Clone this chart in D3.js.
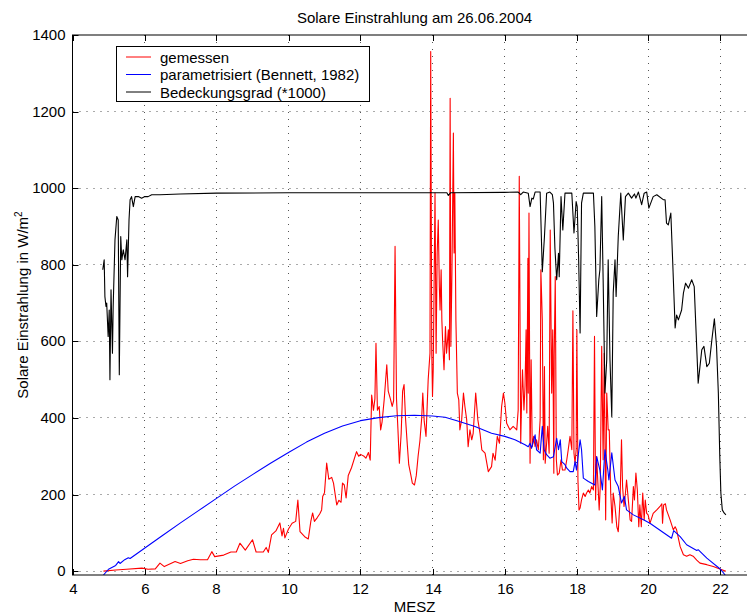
<!DOCTYPE html>
<html><head><meta charset="utf-8">
<script src="https://cdn.jsdelivr.net/npm/d3@7"></script>
<style>
body{margin:0;background:#fff;}
svg text{font-family:"Liberation Sans",Arial,Helvetica,sans-serif;}
</style></head>
<body><svg id="c" width="747" height="615"></svg>
<script>
// ---- data (hour of day MESZ, W/m^2) ----
const xTicks = [4,6,8,10,12,14,16,18,20,22,24];
const yTicks = [0,200,400,600,800,1000,1200,1400];
const seriesNames = ["gemessen","parametrisiert (Bennett, 1982)","Bedeckungsgrad (*1000)"];
const seriesColors = ["#ff0000","#0000ff","#000000"];

const measured = [
[4.86,0],[5.2,3],[5.5,5],[5.93,8],[6.1,5],[6.3,6],[6.43,21],[6.55,12],[6.85,25],[7.0,20],[7.2,27],[7.36,31],
[7.55,30],[7.75,30],[7.87,51],[7.95,38],[8.2,42],[8.4,50],[8.55,50],[8.65,73],[8.8,55],[9.0,82],[9.1,50],[9.3,50],
[9.38,62],[9.44,49],[9.53,95],[9.65,105],[9.76,126],[9.82,92],[9.86,112],[9.9,87],[10.0,110],[10.1,125],[10.2,130],
[10.26,186],[10.32,103],[10.45,90],[10.55,84],[10.62,130],[10.67,152],[10.72,130],[10.8,140],[10.87,150],[10.92,160],
[10.95,195],[11.0,205],[11.06,282],[11.12,240],[11.2,245],[11.25,230],[11.34,173],[11.4,185],[11.46,180],[11.5,230],
[11.55,225],[11.6,191],[11.66,250],[11.75,270],[11.89,312],[11.95,300],[12.0,305],[12.1,300],[12.15,295],[12.22,310],
[12.27,290],[12.31,460],[12.36,420],[12.4,450],[12.43,595],[12.47,420],[12.52,430],[12.56,369],[12.6,390],[12.66,450],
[12.73,539],[12.77,470],[12.83,450],[12.88,430],[12.92,445],[12.96,848],[13.0,450],[13.04,370],[13.08,282],[13.13,360],
[13.17,470],[13.21,487],[13.25,400],[13.3,330],[13.34,278],[13.4,250],[13.44,230],[13.5,225],[13.55,250],[13.6,300],
[13.65,340],[13.7,400],[13.73,465],[13.77,391],[13.82,352],[13.88,500],[13.93,569],[13.95,1357],[13.98,569],[14.0,456],
[14.02,526],[14.07,987],[14.1,569],[14.13,831],[14.16,917],[14.19,743],[14.21,682],[14.24,787],[14.26,656],[14.28,604],
[14.32,526],[14.36,639],[14.39,569],[14.44,630],[14.47,552],[14.49,1235],[14.51,587],[14.54,778],[14.58,1144],[14.6,831],
[14.62,987],[14.65,656],[14.69,465],[14.73,447],[14.76,369],[14.81,395],[14.86,465],[14.9,430],[14.95,395],[14.99,325],
[15.04,369],[15.09,343],[15.13,360],[15.2,465],[15.26,395],[15.32,360],[15.37,317],[15.46,308],[15.55,260],[15.64,273],
[15.68,308],[15.74,290],[15.8,352],[15.86,334],[15.92,430],[15.97,465],[16.01,439],[16.06,386],[16.15,369],[16.24,378],
[16.34,369],[16.38,421],[16.41,1031],[16.45,334],[16.48,465],[16.5,526],[16.54,421],[16.57,482],[16.6,630],[16.62,413],
[16.65,817],[16.66,465],[16.68,935],[16.71,282],[16.74,552],[16.77,325],[16.81,352],[16.85,325],[16.89,343],[16.94,317],
[16.99,395],[17.01,787],[17.05,656],[17.08,291],[17.11,534],[17.13,282],[17.17,334],[17.2,378],[17.24,308],[17.27,891],
[17.31,465],[17.34,630],[17.37,256],[17.38,560],[17.41,769],[17.44,291],[17.47,251],[17.52,256],[17.57,291],[17.61,264],
[17.68,264],[17.73,291],[17.77,317],[17.82,352],[17.87,317],[17.9,680],[17.93,308],[17.96,282],[17.99,317],[18.01,630],
[18.04,238],[18.07,160],[18.1,165],[18.14,186],[18.19,204],[18.24,195],[18.28,204],[18.33,212],[18.37,204],[18.42,221],
[18.47,212],[18.5,613],[18.53,186],[18.56,299],[18.59,238],[18.63,160],[18.66,221],[18.7,587],[18.74,291],[18.77,569],
[18.81,134],[18.84,465],[18.88,369],[18.91,369],[18.95,204],[18.99,126],[19.02,204],[19.07,169],[19.12,116],[19.16,103],
[19.21,186],[19.25,343],[19.28,221],[19.32,169],[19.36,204],[19.39,238],[19.44,186],[19.49,134],[19.53,130],[19.58,221],
[19.61,186],[19.65,256],[19.69,212],[19.73,116],[19.76,173],[19.8,116],[19.84,204],[19.88,134],[19.91,186],[19.95,151],
[19.99,147],[20.04,125],[20.13,151],[20.23,160],[20.32,169],[20.37,176],[20.39,125],[20.42,173],[20.47,176],[20.5,160],
[20.6,134],[20.69,108],[20.74,116],[20.78,108],[20.88,64],[20.97,43],[21.06,39],[21.15,43],[21.24,39],[21.34,29],
[21.43,21],[21.62,17],[21.8,12],[22.0,5],[22.15,0]
];

const parametrized = [
[4.86,-10],[5.0,5],[5.2,15],[5.28,25],[5.32,20],[5.45,30],[5.55,35],[5.6,33],[6.0,60],[6.5,93],[7.0,126],[7.5,158],
[8.0,190],[8.5,222],[9.0,252],[9.5,282],[10.0,310],[10.5,337],[11.0,360],[11.5,379],[12.0,393],[12.5,401],[13.0,406],
[13.5,407],[14.0,405],[14.35,402],[14.7,392],[15.18,378],[15.64,360],[16.01,352],[16.29,343],[16.57,330],[16.66,325],
[16.71,334],[16.75,321],[16.85,356],[16.89,317],[16.99,308],[17.05,378],[17.1,317],[17.17,304],[17.26,295],[17.36,299],
[17.45,347],[17.5,317],[17.55,343],[17.59,286],[17.68,278],[17.73,269],[17.82,260],[17.91,260],[17.96,286],[18.0,264],
[18.1,343],[18.14,317],[18.19,243],[18.33,234],[18.51,225],[18.56,299],[18.65,264],[18.72,212],[18.79,317],[18.87,264],
[18.9,238],[18.98,309],[19.07,238],[19.16,221],[19.25,178],[19.33,195],[19.39,160],[19.58,147],[19.86,134],[20.04,125],
[20.5,95],[20.64,86],[20.7,106],[20.88,90],[21.06,69],[21.34,54],[21.38,56],[21.62,34],[22.0,5],[22.13,-10]
];

const cloudCover = [
[4.84,787],[4.88,813],[4.9,717],[4.93,691],[4.95,700],[4.99,613],[5.02,682],[5.04,500],[5.07,735],[5.11,569],[5.13,691],
[5.18,865],[5.23,926],[5.27,917],[5.3,513],[5.34,874],[5.37,813],[5.41,839],[5.46,813],[5.51,865],[5.53,769],[5.57,917],
[5.6,970],[5.64,978],[5.69,952],[5.74,978],[5.83,978],[5.92,974],[6.01,978],[6.1,978],[6.2,983],[6.43,983],[6.99,985],
[8.0,987],[10.0,988],[12.0,988],[14.0,988],[14.4,988],[14.44,981],[14.5,988],[16.0,989],[16.38,990],[16.45,983],[16.52,990],
[16.66,987],[16.71,952],[16.76,974],[16.8,972],[16.85,990],[16.99,990],[17.05,782],[17.11,874],[17.17,987],[17.26,990],
[17.33,983],[17.36,961],[17.4,844],[17.45,761],[17.5,830],[17.52,769],[17.57,978],[17.62,891],[17.68,987],[17.87,987],
[17.93,883],[17.99,965],[18.02,952],[18.06,813],[18.1,622],[18.14,961],[18.19,987],[18.47,987],[18.51,900],[18.56,665],
[18.62,761],[18.65,787],[18.7,978],[18.74,761],[18.79,465],[18.84,552],[18.88,813],[18.93,552],[18.98,404],[19.02,726],
[19.07,813],[19.1,717],[19.16,874],[19.23,987],[19.3,865],[19.36,978],[19.44,987],[19.53,974],[19.61,985],[19.65,974],
[19.72,990],[19.81,957],[19.88,987],[19.95,990],[20.01,948],[20.13,978],[20.23,983],[20.41,970],[20.46,970],[20.5,909],
[20.55,904],[20.62,935],[20.67,813],[20.74,635],[20.78,669],[20.83,656],[20.92,682],[20.97,726],[21.03,752],[21.11,739],
[21.2,761],[21.27,743],[21.38,491],[21.48,578],[21.54,587],[21.62,534],[21.69,543],[21.76,604],[21.83,659],[21.89,587],
[21.94,465],[21.98,300],[22.01,204],[22.05,160],[22.1,152],[22.15,147]
];

// ---- drawing ----
const svg = d3.select("#c");
const L = 72.5, R = 756.5, T = 35, B = 575;
const x = d3.scaleLinear().domain([4,23]).range([L,R]);
const y = d3.scaleLinear().domain([-10,1400]).range([B,T]);
const crisp = v => Math.round(v - 0.5) + 0.5;

svg.append("defs").append("clipPath").attr("id","clip")
  .append("rect").attr("x",L).attr("y",T).attr("width",R-L).attr("height",B-T);

// grid
const grid = svg.append("g").attr("stroke","#555").attr("stroke-width",1).attr("stroke-dasharray","1,6");
xTicks.filter(t => t > 4 && t < 23).forEach(t => {
  grid.append("line").attr("x1",crisp(x(t))).attr("x2",crisp(x(t))).attr("y1",T).attr("y2",B);
});
yTicks.filter(t => t < 1400).forEach(t => {
  grid.append("line").attr("y1",crisp(y(t))).attr("y2",crisp(y(t))).attr("x1",L).attr("x2",R);
});

// axes
const fmt = d3.format("d");
const xVisible = xTicks.filter(t => t <= 23);
const gx = svg.append("g").attr("transform",`translate(0,${B})`)
  .call(d3.axisBottom(x).tickValues(xVisible).tickFormat(fmt).tickSizeInner(-6).tickSizeOuter(0).tickPadding(8));
const gxt = svg.append("g").attr("transform",`translate(0,${T})`)
  .call(d3.axisTop(x).tickValues(xVisible).tickFormat("").tickSizeInner(-6).tickSizeOuter(0));
const gy = svg.append("g").attr("transform",`translate(${L},0)`)
  .call(d3.axisLeft(y).tickValues(yTicks).tickFormat(fmt).tickSizeInner(-6).tickSizeOuter(0).tickPadding(7));
const gyr = svg.append("g").attr("transform",`translate(${R},0)`)
  .call(d3.axisRight(y).tickValues(yTicks).tickFormat("").tickSizeInner(-6).tickSizeOuter(0));
[gx,gxt,gy,gyr].forEach(g => {
  g.select(".domain").remove();
  g.selectAll(".tick line").attr("stroke","#000");
  g.selectAll(".tick").attr("transform", function(){
    const t = d3.select(this).attr("transform");
    return t.replace(/translate\(([^,]+),([^)]+)\)/, (m,a,b)=>`translate(${g===gx||g===gxt?crisp(+a):0},${g===gx||g===gxt?0:crisp(+b)})`);
  });
  g.selectAll("text").attr("font-size",15).attr("fill","#000")
   .attr("font-family",'"Liberation Sans",Arial,Helvetica,sans-serif');
});

// lines
const line = d3.line().x(d => x(d[0])).y(d => y(d[1]));
const plot = svg.append("g").attr("clip-path","url(#clip)");
[measured, parametrized, cloudCover].forEach((s,i) => {
  plot.append("path").datum(s).attr("d",line).attr("fill","none")
    .attr("stroke",seriesColors[i]).attr("stroke-width",1.1).attr("stroke-linejoin","round");
});

// box
svg.append("rect").attr("x",L).attr("y",T).attr("width",R-L).attr("height",B-T)
  .attr("fill","none").attr("stroke","#000").attr("stroke-width",1);

// title & labels
svg.append("text").attr("x",(L+R)/2).attr("y",23).attr("text-anchor","middle")
  .attr("font-size",15).text("Solare Einstrahlung am 26.06.2004");
svg.append("text").attr("x",(L+R)/2).attr("y",612).attr("text-anchor","middle")
  .attr("font-size",15).text("MESZ");
const yl = svg.append("text").attr("transform",`translate(28,${(T+B)/2}) rotate(-90)`)
  .attr("text-anchor","middle").attr("font-size",15);
yl.append("tspan").text("Solare Einstrahlung in W/m");
yl.append("tspan").attr("font-size",10).attr("dy",-6).text("2");

// legend
const lg = svg.append("g");
lg.append("rect").attr("x",116.5).attr("y",46.5).attr("width",253).attr("height",55)
  .attr("fill","#fff").attr("stroke","#000").attr("stroke-width",1);
const rows = [57, 74.5, 92];
seriesNames.forEach((n,i) => {
  lg.append("line").attr("x1",126).attr("x2",151).attr("y1",rows[i]).attr("y2",rows[i])
    .attr("stroke",seriesColors[i]).attr("stroke-width",1);
  lg.append("text").attr("x",160).attr("y",rows[i]+5.5).attr("font-size",15).text(n);
});
</script></body></html>
